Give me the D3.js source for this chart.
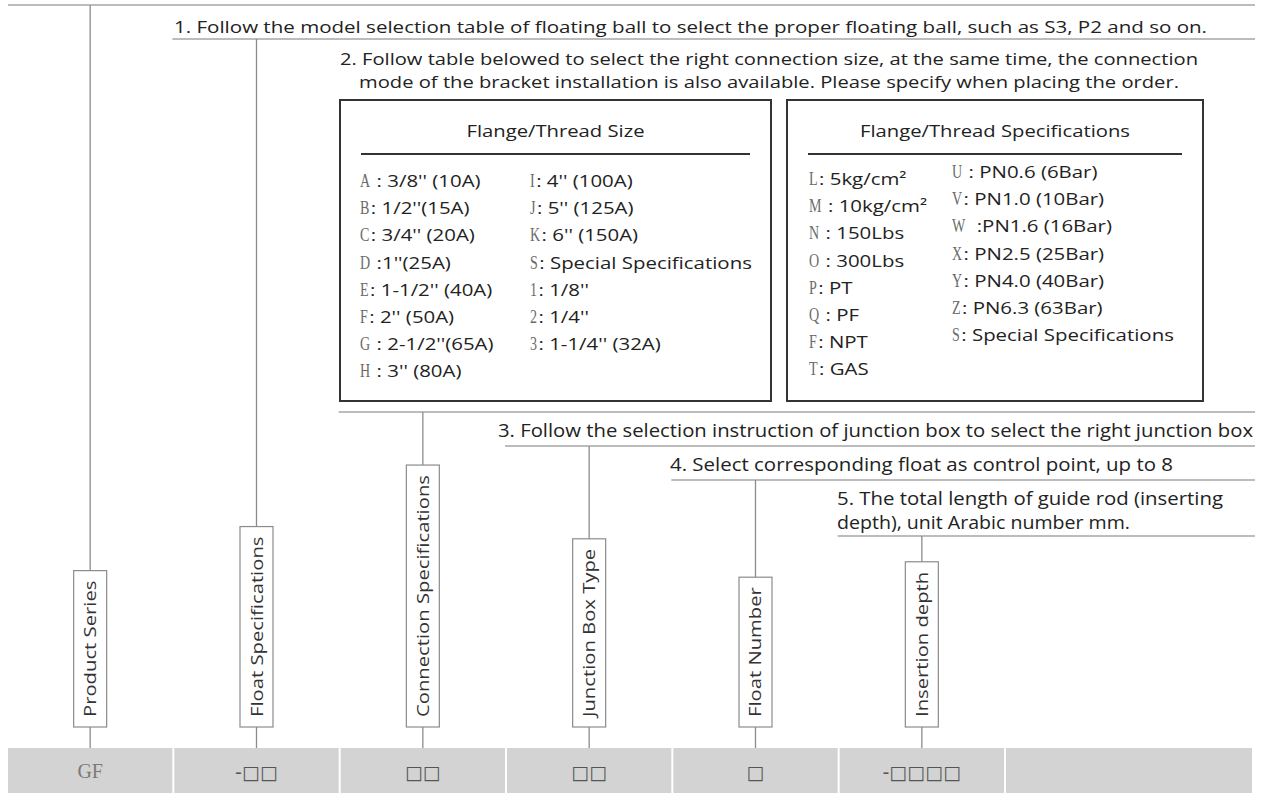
<!DOCTYPE html>
<html><head><meta charset="utf-8">
<script src="https://cdn.jsdelivr.net/npm/d3@7/dist/d3.min.js"></script>
<style>body{margin:0;background:#fff}</style>
</head><body>
<svg id="c" width="1263" height="793"></svg>
<script>
// ---------- data ----------
const segments = ["Product Series","Float Specifications","Connection Specifications","Junction Box Type","Float Number","Insertion depth"];
const codes = ["GF","-\u25A1\u25A1","\u25A1\u25A1","\u25A1\u25A1","\u25A1","-\u25A1\u25A1\u25A1\u25A1"];
const steps = [
  ["1. Follow the model selection table of floating ball to select the proper floating ball, such as S3, P2 and so on."],
  ["2. Follow table belowed to select the right connection size, at the same time, the connection",
   "mode of the bracket installation is also available. Please specify when placing the order."],
  ["3. Follow the selection instruction of junction box to select the right junction box"],
  ["4. Select corresponding float as control point, up to 8"],
  ["5. The total length of guide rod (inserting", "depth), unit Arabic number mm."]
];
const sizeTitle = "Flange/Thread Size";
const sizeCol1 = [["A"," : 3/8'' (10A)"],["B",": 1/2''(15A)"],["C",": 3/4'' (20A)"],["D"," :1''(25A)"],["E",": 1-1/2'' (40A)"],["F",": 2'' (50A)"],["G"," : 2-1/2''(65A)"],["H"," : 3'' (80A)"]];
const sizeCol2 = [["I",": 4'' (100A)"],["J",": 5'' (125A)"],["K",": 6'' (150A)"],["S",": Special Specifications"],["1",": 1/8''"],["2",": 1/4''"],["3",": 1-1/4'' (32A)"]];
const specTitle = "Flange/Thread Specifications";
const specCol1 = [["L",": 5kg/cm\u00B2"],["M"," : 10kg/cm\u00B2"],["N"," : 150Lbs"],["O"," : 300Lbs"],["P",": PT"],["Q"," : PF"],["F",": NPT"],["T",": GAS"]];
const specCol2 = [["U"," : PN0.6 (6Bar)"],["V",": PN1.0 (10Bar)"],["W","  :PN1.6 (16Bar)"],["X",": PN2.5 (25Bar)"],["Y",": PN4.0 (40Bar)"],["Z",": PN6.3 (63Bar)"],["S",": Special Specifications"]];

// ---------- layout ----------
const svg = d3.select("#c");
const SANS = "'Open Sans', 'Noto Sans', sans-serif";
const SERIF = "'Liberation Serif', 'DejaVu Serif', serif";
const x = d3.scaleBand().domain(d3.range(segments.length)).range([8, 1004]).paddingInner(0.012);
const cx = i => x(i) + x.bandwidth() / 2;
const ruleRight = 1255;
const ruleY = [5, 39, 412, 446, 480, 536];
const bandTop = 748, bandBottom = 793, labelBottom = 727;
const lineColor = "#8c8c8c";

function stretch(sel, k) {
  const len = sel.node().getComputedTextLength();
  sel.attr("textLength", len * k).attr("lengthAdjust", "spacingAndGlyphs");
  return len * k;
}

// gray code band
const bandG = svg.append("g");
const gap = x.step() - x.bandwidth();
bandG.selectAll("rect.cell").data(segments).join("rect")
  .attr("x", (d,i) => x(i)).attr("y", bandTop)
  .attr("width", x.bandwidth()).attr("height", bandBottom - bandTop)
  .attr("fill", "#d3d3d3");
bandG.append("rect").attr("x", 1004 + gap).attr("y", bandTop)
  .attr("width", 1252 - 1004 - gap).attr("height", bandBottom - bandTop).attr("fill", "#d3d3d3");
bandG.selectAll("text.code").data(codes).join("text")
  .attr("x", (d,i) => cx(i)).attr("y", (d,i) => i === 0 ? 778 : 779)
  .attr("text-anchor", "middle")
  .attr("font-family", (d,i) => i === 0 ? SERIF : "'DejaVu Sans', sans-serif")
  .attr("font-size", (d,i) => i === 0 ? 20 : 19)
  .attr("fill", (d,i) => i === 0 ? "#7a7a7a" : "#555")
  .text(d => d);

// horizontal rules
svg.selectAll("line.rule").data(ruleY).join("line")
  .attr("x1", (d,i) => i === 0 ? 8 : x(i) - 2).attr("x2", ruleRight)
  .attr("y1", d => d).attr("y2", d => d)
  .attr("stroke", "#a6a6a6").attr("stroke-width", 1.6);

// vertical labels with boxes and connecting lines
segments.forEach((s, i) => {
  const g = svg.append("g");
  const t = g.append("text")
    .attr("font-family", SANS).attr("font-size", 17).attr("fill", "#333")
    .attr("text-anchor", "middle").text(s);
  const len = stretch(t, 1.19);
  const h = len + 20;
  const top = labelBottom - h;
  g.insert("line", "text").attr("x1", cx(i)).attr("x2", cx(i)).attr("y1", ruleY[i]).attr("y2", bandTop)
    .attr("stroke", lineColor).attr("stroke-width", 1.3);
  g.insert("rect", "text").attr("x", cx(i) - 16.5).attr("y", top).attr("width", 33).attr("height", h)
    .attr("fill", "#fff").attr("stroke", lineColor).attr("stroke-width", 1.2);
  t.attr("transform", `translate(${cx(i) + 6},${(top + labelBottom) / 2}) rotate(-90)`);
});

// step texts
const stepFmt = [
  {x:174, ys:[33], anchor:"start", size:17, lens:[1033]},
  {x:769, ys:[65, 88], anchor:"middle", size:17, lens:[858, 820]},
  {x:498, ys:[437], anchor:"start", size:18, lens:[755]},
  {x:670, ys:[471], anchor:"start", size:18, lens:[503]},
  {x:837, ys:[505, 529], anchor:"start", size:18, lens:[386, 293]}
];
steps.forEach((lines, i) => {
  const f = stepFmt[i];
  lines.forEach((ln, j) => {
    svg.append("text").attr("x", f.x).attr("y", f.ys[j])
      .attr("text-anchor", f.anchor).attr("font-family", SANS).attr("font-size", f.size)
      .attr("fill", "#222").attr("textLength", f.lens[j]).attr("lengthAdjust", "spacingAndGlyphs")
      .text(ln);
  });
});

// tables
function table(bx, bw, title, cols) {
  const g = svg.append("g");
  g.append("rect").attr("x", bx).attr("y", 100).attr("width", bw).attr("height", 301)
    .attr("fill", "none").attr("stroke", "#333").attr("stroke-width", 2);
  const tt = g.append("text").attr("x", bx + bw / 2).attr("y", 137).attr("text-anchor", "middle")
    .attr("font-family", SANS).attr("font-size", 17).attr("fill", "#222").text(title);
  stretch(tt, 1.19);
  g.append("line").attr("x1", bx + 21).attr("x2", bx + bw - 21).attr("y1", 154).attr("y2", 154)
    .attr("stroke", "#333").attr("stroke-width", 2);
  cols.forEach(c => {
    const y = d3.scaleLinear().domain([0, 1]).range([c.y0, c.y0 + 27.2]);
    c.rows.forEach((d, k) => {
      const p = g.append("text").attr("x", c.x).attr("y", y(k))
        .attr("font-family", SERIF).attr("font-size", 18).attr("fill", "#6a6a6a").text(d[0]);
      const pw = stretch(p, 0.78);
      const lead = d[1].match(/^ */)[0].length;
      const r = g.append("text").attr("x", c.x + pw + 1.5 + lead * 5).attr("y", y(k))
        .attr("font-family", SANS).attr("font-size", 17).attr("fill", "#222")
        .text(d[1].trimStart());
      stretch(r, 1.2);
    });
  });
}
table(340, 431, sizeTitle, [{x:360, y0:187, rows:sizeCol1}, {x:530, y0:187, rows:sizeCol2}]);
table(787, 416, specTitle, [{x:809, y0:185, rows:specCol1}, {x:952, y0:178, rows:specCol2}]);
</script>
</body></html>
